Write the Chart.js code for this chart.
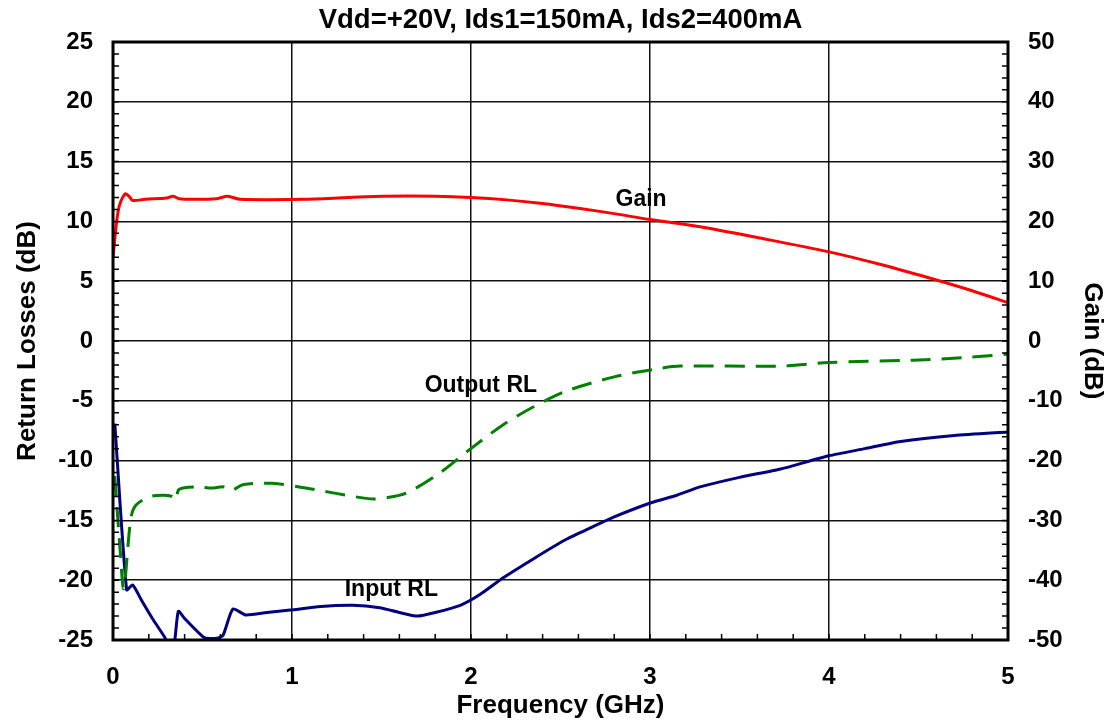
<!DOCTYPE html>
<html lang="en">
<head>
    <meta charset="UTF-8">
    <title>Return Losses and Gain</title>
    <script src="https://cdn.jsdelivr.net/npm/chart.js"></script>
    <style>
        body {
            margin: 0;
            background: #fff;
        }
        canvas {
            display: block;
        }
    </style>
</head>
<body>
    <canvas id="chart" width="1108" height="725"></canvas>

    <script>
        // values (GHz / dB)
        const gainFreq = [0.0, 0.03, 0.067, 0.09, 0.11, 0.18, 0.30, 0.335, 0.37, 0.45, 0.58, 0.64, 0.71, 1.06, 1.32, 1.51, 1.80, 2.00, 2.20, 2.40, 2.60, 2.80, 3.00, 3.28, 3.60, 4.00, 4.30, 4.60, 4.80, 5.00];
        const gain     = [14.0, 21.9, 24.6, 24.2, 23.5, 23.7, 23.9, 24.2, 23.8, 23.7, 23.8, 24.2, 23.7, 23.7, 24.0, 24.2, 24.2, 24.0, 23.6, 23.0, 22.2, 21.3, 20.3, 19.1, 17.3, 14.9, 12.7, 10.2, 8.4, 6.4];

        const outFreq  = [0.01, 0.04, 0.06, 0.10, 0.13, 0.21, 0.28, 0.33, 0.35, 0.37, 0.47, 0.55, 0.62, 0.66, 0.73, 0.89, 1.04, 1.23, 1.44, 1.53, 1.64, 1.81, 1.99, 2.18, 2.35, 2.53, 2.80, 3.01, 3.17, 3.73, 4.00, 4.47, 4.75, 5.00];
        const outputRL = [-11.3, -17.5, -20.7, -14.8, -13.7, -13.0, -12.9, -13.0, -13.3, -12.4, -12.2, -12.3, -12.2, -12.5, -12.0, -11.9, -12.2, -12.7, -13.2, -13.1, -12.7, -11.2, -9.1, -7.0, -5.5, -4.2, -3.0, -2.4, -2.1, -2.1, -1.8, -1.6, -1.4, -1.1];

        const inFreq   = [0.01, 0.076, 0.11, 0.16, 0.22, 0.29, 0.31, 0.34, 0.365, 0.40, 0.50, 0.52, 0.58, 0.615, 0.67, 0.74, 0.86, 0.99, 1.16, 1.34, 1.49, 1.60, 1.70, 1.80, 1.94, 2.05, 2.18, 2.35, 2.53, 2.67, 2.80, 3.01, 3.15, 3.28, 3.50, 3.73, 4.00, 4.20, 4.40, 4.70, 5.00];
        const inputRL  = [-6.9, -20.8, -20.4, -21.7, -23.2, -24.8, -25.5, -25.5, -22.6, -23.2, -24.7, -24.85, -24.85, -24.6, -22.4, -22.9, -22.7, -22.5, -22.2, -22.1, -22.3, -22.7, -23.0, -22.7, -22.1, -21.2, -19.8, -18.2, -16.6, -15.6, -14.7, -13.5, -12.9, -12.2, -11.4, -10.7, -9.6, -9.0, -8.4, -7.9, -7.6];

        const titleText = "Vdd=+20V, Ids1=150mA, Ids2=400mA";
        // labels on the plot: [text, GHz, dB on left axis]
        const notes = [["Gain", 2.95, 11.8], ["Output RL", 2.055, -3.7], ["Input RL", 1.555, -20.8]];

        const FONT = "'Liberation Sans', Arial, sans-serif";

        function pts(xs, ys) {
            return xs.map((x, i) => ({x: x, y: ys[i]}));
        }

        // border box, inward minor ticks and the text labels
        const framePlugin = {
            id: "frame",
            afterDatasetsDraw(chart) {
                const {ctx, chartArea: a, scales} = chart;
                ctx.save();
                ctx.strokeStyle = "#000";
                ctx.lineWidth = 1.5;
                ctx.beginPath();
                for (let v = 0; v <= 5.0001; v += 0.2) {
                    const px = scales.x.getPixelForValue(v);
                    ctx.moveTo(px, a.bottom);
                    ctx.lineTo(px, a.bottom - 6);
                }
                for (let v = -25; v <= 25; v += 1) {
                    const py = scales.y.getPixelForValue(v);
                    ctx.moveTo(a.left, py);
                    ctx.lineTo(a.left + 6, py);
                }
                for (let v = -50; v <= 50; v += 2) {
                    const py = scales.y2.getPixelForValue(v);
                    ctx.moveTo(a.right, py);
                    ctx.lineTo(a.right - 6, py);
                }
                ctx.stroke();

                ctx.lineWidth = 3;
                ctx.strokeRect(a.left, a.top, a.right - a.left, a.bottom - a.top);

                ctx.fillStyle = "#000";
                ctx.font = "bold 23px " + FONT;
                ctx.textAlign = "center";
                ctx.textBaseline = "middle";
                notes.forEach(n => {
                    ctx.fillText(n[0], scales.x.getPixelForValue(n[1]), scales.y.getPixelForValue(n[2]));
                });
                ctx.restore();
            }
        };

        const gridOpts = {color: "#111", lineWidth: 1.5, drawTicks: false};
        const tickFont = {family: FONT, size: 24, weight: "bold"};
        const titleFont = {family: FONT, size: 26, weight: "bold"};

        new Chart(document.getElementById("chart"), {
            type: "line",
            data: {
                datasets: [
                    {
                        label: "Gain",
                        data: pts(gainFreq, gain),
                        yAxisID: "y2",
                        borderColor: "#ff0000",
                        borderWidth: 3,
                        tension: 0.3
                    },
                    {
                        label: "Output RL",
                        data: pts(outFreq, outputRL),
                        yAxisID: "y",
                        borderColor: "#008000",
                        borderWidth: 3,
                        borderDash: [20, 11],
                        tension: 0.3
                    },
                    {
                        label: "Input RL",
                        data: pts(inFreq, inputRL),
                        yAxisID: "y",
                        borderColor: "#000080",
                        borderWidth: 3,
                        tension: 0.2
                    }
                ]
            },
            options: {
                responsive: false,
                animation: false,
                devicePixelRatio: 1,
                layout: {padding: 0},
                elements: {point: {radius: 0}},
                plugins: {
                    legend: {display: false},
                    tooltip: {enabled: false},
                    title: {
                        display: true,
                        text: titleText,
                        color: "#000",
                        fullSize: false,
                        font: {family: FONT, size: 27.5, weight: "bold", lineHeight: 1.2},
                        padding: {top: 4, bottom: 5}
                    }
                },
                scales: {
                    x: {
                        type: "linear",
                        min: 0,
                        max: 5,
                        ticks: {stepSize: 1, color: "#000", font: tickFont, padding: 23, maxRotation: 0},
                        grid: gridOpts,
                        border: {display: false},
                        title: {display: true, text: "Frequency (GHz)", color: "#000", font: titleFont, padding: {top: 0, bottom: 4}},
                        afterFit: s => { s.height = 85; }
                    },
                    y: {
                        position: "left",
                        min: -25,
                        max: 25,
                        ticks: {stepSize: 5, color: "#000", font: tickFont, padding: 20},
                        grid: gridOpts,
                        border: {display: false},
                        title: {display: true, text: "Return Losses (dB)", color: "#000", font: titleFont, padding: {top: 12, bottom: 0}},
                        afterFit: s => { s.width = 113; }
                    },
                    y2: {
                        position: "right",
                        min: -50,
                        max: 50,
                        ticks: {stepSize: 10, color: "#000", font: tickFont, padding: 20},
                        grid: {drawOnChartArea: false, drawTicks: false},
                        border: {display: false},
                        title: {display: true, text: "Gain (dB)", color: "#000", font: titleFont, padding: {top: 0.4, bottom: 0}},
                        afterFit: s => { s.width = 100; }
                    }
                }
            },
            plugins: [framePlugin]
        });
    </script>
</body>
</html>
